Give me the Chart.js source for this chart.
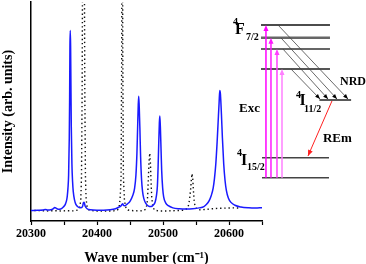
<!DOCTYPE html>
<html>
<head>
<meta charset="utf-8">
<script src="https://cdn.jsdelivr.net/npm/chart.js@4.4.1/dist/chart.umd.min.js"></script>
<style>
  html, body { margin: 0; padding: 0; background: #fff; }
  canvas { display: block; }
</style>
</head>
<body>
<canvas id="espectroChart" width="366" height="264"></canvas>
<script>
// Datos
const xTicks = [20300, 20400, 20500, 20600];

// Espectro (línea azul continua)
const blueX = [20300, 20310, 20318, 20322, 20325, 20330, 20334, 20336, 20338, 20341, 20345, 20349, 20352, 20354, 20355, 20356, 20357, 20358, 20358.5, 20359, 20359.5, 20360, 20360.5, 20361, 20362, 20363, 20364, 20366, 20368, 20371, 20375, 20378, 20379.5, 20380.5, 20382, 20385, 20390, 20400, 20410, 20420, 20428, 20433, 20436, 20438, 20439, 20440, 20442, 20446, 20450, 20454, 20457, 20459, 20460.5, 20461.5, 20462.5, 20463.2, 20464, 20465, 20466, 20467.5, 20469, 20471, 20474, 20478, 20482, 20485, 20488, 20490, 20491.5, 20492.5, 20493.5, 20494.5, 20495.2, 20496, 20497, 20498, 20499.5, 20501, 20504, 20508, 20515, 20525, 20535, 20545, 20555, 20562, 20566, 20570, 20573, 20576, 20578, 20580, 20582, 20583.5, 20585, 20586, 20587, 20588.5, 20590, 20592, 20594, 20596, 20599, 20603, 20609, 20618, 20630, 20640, 20650];
const blueY = [4.8, 4.9, 5.0, 5.3, 5.0, 5.1, 5.7, 6.2, 5.9, 5.4, 5.5, 6.4, 7.6, 9.5, 11.5, 15, 21, 38, 55, 80, 87, 80, 62, 44, 26, 18, 13.5, 9.5, 7.6, 6.5, 6.0, 6.6, 8.4, 8.6, 6.8, 5.6, 5.1, 4.9, 4.9, 5.1, 5.6, 6.3, 6.8, 7.6, 7.9, 7.2, 7.0, 7.8, 9.0, 11.5, 15, 21, 31, 42, 53, 57, 52, 42, 30, 19, 13.5, 10.2, 8.0, 6.8, 6.6, 7.2, 8.6, 11.5, 16, 24, 35, 45, 48, 43, 33, 23, 15, 11, 8.3, 7.0, 6.0, 5.6, 5.5, 5.6, 6.0, 6.6, 7.6, 9.3, 11.5, 15, 19.5, 26, 36, 45, 54, 59.6, 58, 49, 38, 26, 18.5, 14, 10.5, 8.5, 7.2, 6.4, 6.0, 5.9, 6.1];

// Espectro de referencia (línea negra punteada)
const dotX = [20305, 20315, 20325, 20335, 20345, 20355, 20365, 20371, 20374, 20375.5, 20376.5, 20377.5, 20378.5, 20380.5, 20381.5, 20382.5, 20383.5, 20385, 20388, 20395, 20405, 20415, 20425, 20431, 20433.5, 20435, 20436.5, 20437.5, 20438.2, 20439, 20440, 20441.5, 20443, 20444.5, 20447, 20455, 20465, 20471, 20474, 20476, 20477, 20478, 20479, 20480, 20481, 20482, 20483, 20484.5, 20487, 20493, 20505, 20515, 20525, 20533, 20537, 20539, 20540.5, 20542, 20543, 20544, 20545, 20546, 20547, 20548.5, 20551, 20556, 20565, 20575, 20585, 20595, 20605, 20615];
const dotY = [4.8, 4.7, 4.6, 4.7, 4.6, 4.7, 4.6, 5.0, 6.5, 10, 20, 60, 150, 150, 60, 20, 10, 6.5, 5.0, 4.6, 4.5, 4.5, 4.6, 5.0, 6.5, 10, 20, 80, 300, 80, 20, 10, 7, 5.5, 5.0, 4.7, 4.6, 4.8, 5.5, 8, 13, 21, 28, 31, 26, 17, 10.5, 6.5, 5.0, 4.6, 4.6, 4.7, 4.8, 5.0, 5.8, 7.5, 10.5, 15, 19, 21.6, 19.5, 14.5, 9.8, 6.8, 5.4, 5.1, 5.3, 5.6, 5.8, 5.9, 6.0, 5.9];

const SERIF = '"Liberation Serif", "Times New Roman", serif';

// Diagrama de niveles de energía (en unidades de los ejes)
const niveles = [
  { x0: 20648.5, x1: 20753, y: 89.5, color: '#111', w: 1.5 },
  { x0: 20648.5, x1: 20753, y: 83.7, color: '#666', w: 2.5 },
  { x0: 20648.5, x1: 20753, y: 78.5, color: '#333', w: 1.5 },
  { x0: 20648.5, x1: 20753, y: 69.4, color: '#555', w: 2 },
  { x0: 20737, x1: 20785, y: 55.3, color: '#222', w: 1.5 },
  { x0: 20650, x1: 20751.5, y: 28.9, color: '#444', w: 1.5 },
  { x0: 20650, x1: 20751.5, y: 19.8, color: '#444', w: 1.5 }
];
const excitacion = [
  { x: 20656, y0: 19.8, y1: 89.5, color: '#ff00ff' },
  { x: 20663.6, y0: 19.8, y1: 83.7, color: '#ff1aff' },
  { x: 20672.7, y0: 19.8, y1: 78.5, color: '#ff40ff' },
  { x: 20680.3, y0: 19.8, y1: 69.4, color: '#ff80ff' }
];
const relajacion = [
  { x0: 20674.2, y0: 89.5, x1: 20780.3, y1: 55.7 },
  { x0: 20678.8, y0: 83.6, x1: 20763.6, y1: 55.7 },
  { x0: 20681.8, y0: 78.5, x1: 20750, y1: 55.7 },
  { x0: 20693.9, y0: 69.4, x1: 20737.9, y1: 55.7 }
];
const emision = { x0: 20756, y0: 54.8, x1: 20719.7, y1: 29.7 };
const textos = [
  { t: '4', x: 20606.1, y: 89.3, size: 10 },
  { t: 'F', x: 20609.1, y: 85.6, size: 16 },
  { t: '7/2', x: 20625.8, y: 82.6, size: 10 },
  { t: '4', x: 20701.5, y: 56.2, size: 10 },
  { t: 'I', x: 20706.8, y: 53.0, size: 16 },
  { t: '11/2', x: 20713.6, y: 49.9, size: 10 },
  { t: '4', x: 20612.1, y: 29.9, size: 10 },
  { t: 'I', x: 20618.2, y: 25.7, size: 16 },
  { t: '15/2', x: 20627.3, y: 23.5, size: 10 },
  { t: 'Exc', x: 20615.2, y: 49.9, size: 13 },
  { t: 'NRD', x: 20768.2, y: 62.1, size: 12 },
  { t: 'REm', x: 20742.4, y: 36.2, size: 13 }
];

// Dibuja la punta de una flecha en (x1, y1)
function puntaFlecha(ctx, x0, y0, x1, y1, largo, ancho, color) {
  const a = Math.atan2(y1 - y0, x1 - x0);
  ctx.save();
  ctx.translate(x1, y1);
  ctx.rotate(a);
  ctx.fillStyle = color;
  ctx.beginPath();
  ctx.moveTo(0, 0);
  ctx.lineTo(-largo, -ancho);
  ctx.lineTo(-largo, ancho);
  ctx.closePath();
  ctx.fill();
  ctx.restore();
}

const diagramaPlugin = {
  id: 'diagrama',
  afterDraw(chart) {
    const { ctx, scales } = chart;
    const X = v => scales.x.getPixelForValue(v);
    const Y = v => scales.y.getPixelForValue(v);
    ctx.save();
    ctx.lineCap = 'butt';

    niveles.forEach(n => {
      ctx.strokeStyle = n.color;
      ctx.lineWidth = n.w;
      ctx.beginPath();
      ctx.moveTo(X(n.x0), Y(n.y));
      ctx.lineTo(X(n.x1), Y(n.y));
      ctx.stroke();
    });

    excitacion.forEach(e => {
      const px = X(e.x), pa = Y(e.y0), pb = Y(e.y1);
      ctx.strokeStyle = e.color;
      ctx.lineWidth = 1.5;
      ctx.beginPath();
      ctx.moveTo(px, pa);
      ctx.lineTo(px, pb + 4);
      ctx.stroke();
      puntaFlecha(ctx, px, pa, px, pb, 6, 2.5, e.color);
    });

    relajacion.forEach(r => {
      const a = [X(r.x0), Y(r.y0)], b = [X(r.x1), Y(r.y1)];
      ctx.strokeStyle = '#444';
      ctx.lineWidth = 0.8;
      ctx.beginPath();
      ctx.moveTo(a[0], a[1]);
      ctx.lineTo(b[0], b[1]);
      ctx.stroke();
      puntaFlecha(ctx, a[0], a[1], b[0], b[1], 5, 2, '#000');
    });

    const ea = [X(emision.x0), Y(emision.y0)], eb = [X(emision.x1), Y(emision.y1)];
    ctx.strokeStyle = '#ff2020';
    ctx.lineWidth = 1;
    ctx.beginPath();
    ctx.moveTo(ea[0], ea[1]);
    ctx.lineTo(eb[0], eb[1]);
    ctx.stroke();
    puntaFlecha(ctx, ea[0], ea[1], eb[0], eb[1], 6, 2.5, '#ff2020');

    ctx.fillStyle = '#000';
    ctx.textBaseline = 'alphabetic';
    ctx.textAlign = 'left';
    textos.forEach(t => {
      ctx.font = 'bold ' + t.size + 'px ' + SERIF;
      ctx.fillText(t.t, X(t.x), Y(t.y));
    });
    ctx.restore();
  }
};

function initializeChart() {
  const canvas = document.getElementById('espectroChart');
  if (!canvas) {
    console.error('No se encontró el canvas');
    return null;
  }
  const ctx = canvas.getContext('2d');

  return new Chart(ctx, {
    type: 'line',
    data: {
      datasets: [
        {
          label: 'Espectro',
          data: blueX.map((x, i) => ({ x: x, y: blueY[i] })),
          borderColor: '#1a1aff',
          borderWidth: 1.5,
          pointRadius: 0,
          cubicInterpolationMode: 'monotone',
          fill: false
        },
        {
          label: 'Referencia',
          data: dotX.map((x, i) => ({ x: x, y: dotY[i] })),
          borderColor: '#111',
          borderWidth: 1.4,
          borderDash: [1.4, 2.8],
          pointRadius: 0,
          fill: false
        }
      ]
    },
    options: {
      responsive: false,
      animation: false,
      devicePixelRatio: 1,
      layout: { padding: { top: 2, right: 104, left: 0, bottom: 0 } },
      plugins: {
        legend: { display: false },
        tooltip: { enabled: false }
      },
      scales: {
        x: {
          type: 'linear',
          min: 20300,
          max: 20650,
          afterFit: s => { s.height = 43; },
          ticks: {
            stepSize: 50,
            autoSkip: false,
            maxRotation: 0,
            padding: 2,
            color: '#000',
            font: { family: SERIF, size: 12, weight: 'bold' },
            callback: v => (xTicks.includes(v) ? String(v) : '')
          },
          grid: { drawOnChartArea: false, tickLength: 4, color: '#000', tickColor: '#000', tickWidth: 1.2 },
          border: { color: '#000', width: 1.5 },
          title: {
            display: true,
            text: 'Wave number (cm⁻¹)',
            color: '#000',
            padding: 0,
            font: { family: SERIF, size: 14, weight: 'bold', lineHeight: 0.8 }
          }
        },
        y: {
          min: 0,
          max: 100,
          afterFit: s => { s.width = 31; },
          ticks: { display: false },
          grid: { display: false, drawTicks: false },
          border: { color: '#000', width: 1.5 },
          title: {
            display: true,
            text: 'Intensity (arb. units)',
            color: '#000',
            padding: 0,
            font: { family: SERIF, size: 14, weight: 'bold' }
          }
        }
      }
    },
    plugins: [diagramaPlugin]
  });
}

initializeChart();
</script>
</body>
</html>
